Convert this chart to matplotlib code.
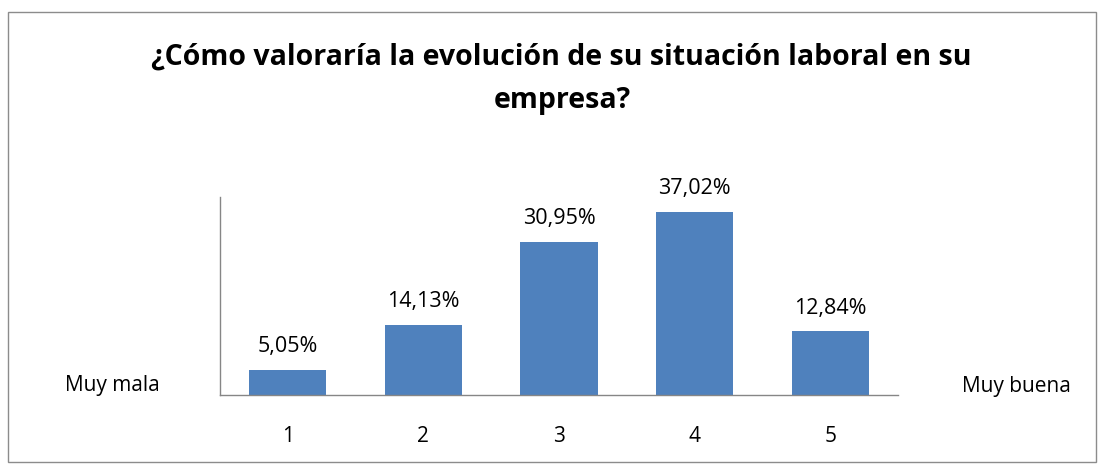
import matplotlib.pyplot as plt
from matplotlib.patches import Rectangle

categories = ["1", "2", "3", "4", "5"]
values = [5.05, 14.13, 30.95, 37.02, 12.84]
title_lines = ["¿Cómo valoraría la evolución de su situación laboral en su", "empresa?"]
left_label = "Muy mala"
right_label = "Muy buena"

BAR_COLOR = "#4F81BD"
FONT = ["Open Sans", "DejaVu Sans"]
H = 468

plt.rcParams.update({"font.family": FONT})

fig = plt.figure(figsize=(11.05, 4.68), dpi=100)
fig.patches.append(Rectangle((8 / 1105, 1 - 462 / H), 1088 / 1105, 450 / H,
                             transform=fig.transFigure, fill=False,
                             edgecolor="#8c8c8c", linewidth=1.0))

ax = fig.add_axes([220 / 1105, 1 - 395 / H, 678 / 1105, 198 / H])
x = list(range(len(categories)))
ax.bar(x, values, width=0.57, color=BAR_COLOR)
for xi, v in zip(x, values):
    ax.text(xi, v + 3.6, f"{v:.2f}%".replace(".", ","), ha="center", va="baseline",
            fontsize=15.5, color="#000000")

ax.set_xlim(-0.5, len(categories) - 0.5)
ax.set_ylim(0, 40)
ax.set_xticks(x)
ax.set_xticklabels(categories, fontsize=15)
ax.tick_params(axis="x", length=0, pad=22)
ax.set_yticks([])
for side in ("top", "right"):
    ax.spines[side].set_visible(False)
for side in ("left", "bottom"):
    ax.spines[side].set_color("#868686")
    ax.spines[side].set_linewidth(1.0)

fig.text(112 / 1105, 1 - 391 / H, left_label, ha="center", va="baseline", fontsize=15)
fig.text(1016 / 1105, 1 - 392 / H, right_label, ha="center", va="baseline", fontsize=15)
fig.text(561 / 1105, 1 - 65 / H, title_lines[0], ha="center", va="baseline",
         fontsize=20.5, fontweight="bold")
fig.text(562 / 1105, 1 - 108 / H, title_lines[1], ha="center", va="baseline",
         fontsize=20.5, fontweight="bold")

fig.savefig("out.png", dpi=100)
